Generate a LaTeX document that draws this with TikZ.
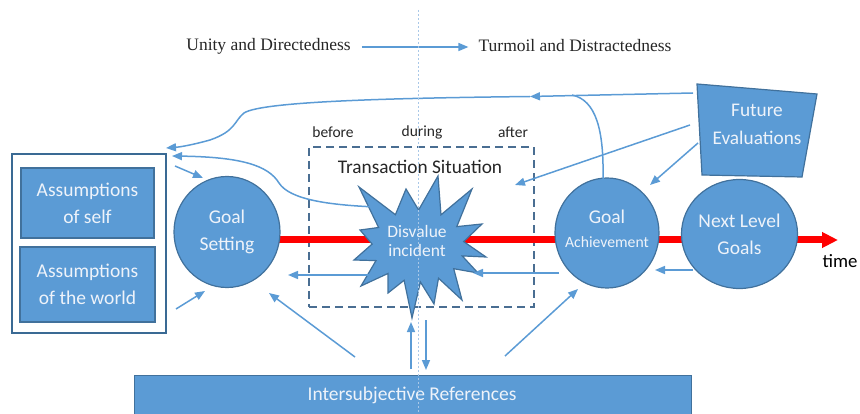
\documentclass[tikz,border=0pt]{standalone}
\usepackage{fontspec}
\setmainfont{Liberation Serif}
\newfontfamily\calib{Carlito}
\usetikzlibrary{arrows.meta,shapes.geometric}
\definecolor{fillblue}{HTML}{5B9BD5}
\definecolor{edgeblue}{HTML}{41719C}
\definecolor{arrowblue}{HTML}{5B9BD5}
\definecolor{dashgray}{HTML}{4A6E92}
\definecolor{guide}{HTML}{A9C8E8}
\definecolor{shapetext}{HTML}{EEF3FA}
\definecolor{darktext}{HTML}{262626}
\definecolor{frameblue}{HTML}{3A6A94}

\begin{document}
\begin{tikzpicture}[x=1pt,y=-1pt,
  arr/.style={draw=arrowblue, line width=1.5pt, -{Triangle[length=10pt,width=8pt]}},
  link/.style={draw=arrowblue, line width=1.5pt},
  shapefont/.style={font=\calib\fontsize{19.5}{27}\selectfont},
  blueshape/.style={fill=fillblue, draw=edgeblue, line width=1.2pt, text=shapetext,
                    align=center, inner sep=0pt, shapefont},
  roundshape/.style={blueshape, ellipse},
  shapetxt/.style={text=shapetext, align=center, inner sep=0pt, shapefont},
  darklabel/.style={text=darktext, inner sep=0pt},
  serifhead/.style={inner sep=0pt, font=\fontsize{17.5}{20}\selectfont, text=darktext},
  timeline/.style={draw=red, line width=7pt, -{Triangle[length=16pt,width=15pt]}},
  phasebox/.style={draw=dashgray, line width=2.5pt, dash pattern=on 8pt off 5pt, inner sep=0pt},
  framebox/.style={draw=frameblue, line width=2.2pt, inner sep=0pt}
]
\useasboundingbox (0,0) rectangle (860,414);
\clip (0,0) rectangle (860,414);

% heading: from unity to turmoil
\node[serifhead] (unity) at (268.5,46) {Unity and Directedness};
\node[serifhead] (turmoil) at (575,46) {Turmoil and Distractedness};
\draw[arr] ([xshift=11pt,yshift=-1pt]unity.east) -- ([xshift=-10pt,yshift=-1pt]turmoil.west);

% phase labels and the transaction frame
\node[darklabel, font=\calib\fontsize{15.5}{18}\selectfont] (before) at (333,132) {before};
\node[darklabel, font=\calib\fontsize{15.5}{18}\selectfont] (during) at (422,132) {during};
\node[darklabel, font=\calib\fontsize{15.5}{18}\selectfont] (after) at (513,132) {after};
\node[phasebox, minimum width=225pt, minimum height=160pt] (ts) at (421.5,227) {};
\node[darklabel, font=\calib\fontsize{19.3}{22}\selectfont] (tstitle) at (420,167) {Transaction Situation};

% the time axis
\coordinate (tend) at (838,240);
\coordinate (tstart) at (227,240);
\draw[timeline] (tstart) -- (tend);
\node[darklabel, text=black, font=\calib\fontsize{18.8}{22}\selectfont] (time) at (840,261) {time};

% assumptions frame
\node[framebox, minimum width=154pt, minimum height=179pt] (frame) at (89,243.5) {};
\node[blueshape, minimum width=133pt, minimum height=70pt] (self) at (87.5,203) {Assumptions\\of self};
\node[blueshape, minimum width=135pt, minimum height=75pt] (world) at (87.5,284.5) {Assumptions\\of the world};

% goal circles
\node[roundshape, minimum width=106pt, minimum height=111pt] (gs) at (227,232) {Goal\\Setting};
\node[roundshape, minimum width=104pt, minimum height=110pt] (ga) at (607,233) {};
\node[shapetxt] (gatext) at (607,217) {Goal};
\node[shapetxt, font=\calib\fontsize{15.7}{18}\selectfont] (gasub) at (607,242) {Achievement};
\node[roundshape, minimum width=105pt, minimum height=109pt] (nl) at (739.5,234) {Next Level\\Goals};

% disvalue incident burst
\coordinate (dv) at (418,246);
\filldraw[fill=fillblue, draw=edgeblue, line width=1.2pt]
  (438,176) -- (441,214.8) -- (472,189) -- (456.8,226.6) -- (482,224) -- (463.7,241.6)
  -- (486,257) -- (462.2,255.9) -- (478,273) -- (453.7,268.7) -- (462,300) -- (438.5,278.2)
  -- (434,304) -- (420.4,282) -- (412,318) -- (404.1,280.3) -- (388,293) -- (388.1,273.4)
  -- (361,286) -- (376,260.6) -- (354,260) -- (372.1,244.1) -- (360,230) -- (378.6,227.5)
  -- (359,187) -- (395.4,214.7) -- (406,189) -- (418.6,210) -- cycle;
\node[shapetxt, font=\calib\fontsize{17.5}{18.5}\selectfont] (dvtext) at (417,241) {Disvalue\\incident};

% future evaluations
\coordinate (fe1) at (697,84);
\coordinate (fe2) at (817,94);
\coordinate (fe3) at (802,177);
\coordinate (fe4) at (702,175);
\filldraw[fill=fillblue, draw=edgeblue, line width=1.2pt] (fe1) -- (fe2) -- (fe3) -- (fe4) -- cycle;
\node[shapetxt, font=\calib\fontsize{19.3}{28}\selectfont] (fe) at (757,124) {Future\\Evaluations};

% intersubjective references
\node[blueshape, anchor=north west, minimum width=557pt, minimum height=60pt] (ir) at (134,375) {};
\node[shapetxt] (irtext) at (412,395) {Intersubjective References};

% feedback from future evaluations along the top
\coordinate (feTop) at (693,93);
\coordinate (topMid) at (530,96.5);
\coordinate (frameTop) at (166,148);
\draw[arr] (feTop) -- (topMid);
\draw[arr] (topMid) .. controls (400,98) and (262,101) .. (244,113)
  .. controls (234,121) and (236,131) .. (210,140)
  .. controls (192,145) and (180,147) .. (frameTop);
\coordinate (gaTop) at (603,179);
\coordinate (joinTop) at (572,95);
\draw[link] (gaTop) .. controls (604,130) and (596,100) .. (joinTop);

% from the incident back to the assumptions
\coordinate (dvLeft) at (376,207);
\coordinate (frameSide) at (172,156);
\draw[arr] (dvLeft) .. controls (330,205) and (290,200) .. (279,183)
  .. controls (268,165) and (240,157) .. (frameSide);

% future evaluations into the situation and the achievement
\coordinate (feMid) at (690,125);
\coordinate (tsIn) at (515,185);
\draw[arr] (feMid) -- (tsIn);
\coordinate (feLow) at (698,143);
\coordinate (gaIn) at (650,185);
\draw[arr] (feLow) -- (gaIn);

% leftward flow along the lower side
\coordinate (dvOut) at (382,275);
\coordinate (gsIn) at (288,275);
\draw[arr] (dvOut) -- (gsIn);
\coordinate (gaOut) at (559,273);
\coordinate (dvIn) at (473,273);
\draw[arr] (gaOut) -- (dvIn);
\coordinate (nlOut) at (693,270);
\coordinate (gaBack) at (655,270);
\draw[arr] (nlOut) -- (gaBack);

% assumptions to goal setting
\coordinate (frUp) at (175,166);
\coordinate (gsUp) at (203,178);
\draw[arr] (frUp) -- (gsUp);
\coordinate (frLow) at (176,309);
\coordinate (gsLow) at (205,291);
\draw[arr] (frLow) -- (gsLow);

% intersubjective references to goals and the incident
\coordinate (irL) at (355,357);
\coordinate (gsRef) at (269,293);
\draw[arr] (irL) -- (gsRef);
\coordinate (irR) at (505,356);
\coordinate (gaRef) at (578,289);
\draw[arr] (irR) -- (gaRef);
\coordinate (irUp) at (411,369);
\coordinate (dvDown) at (411,322);
\draw[arr] (irUp) -- (dvDown);
\coordinate (dvUp) at (426,320);
\coordinate (irDown) at (426,370);
\draw[arr] (dvUp) -- (irDown);

% dotted divider between before and after
\draw[guide, line width=0.8pt, dash pattern=on 2pt off 2pt] (418,10) -- (418,414);
\end{tikzpicture}
\end{document}
